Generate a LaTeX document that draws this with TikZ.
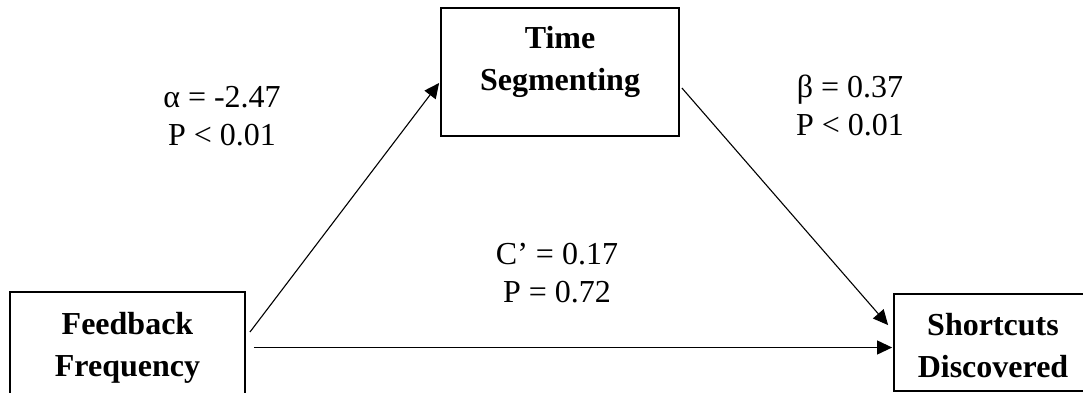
\documentclass[tikz,border=0pt]{standalone}
\usepackage{fontspec}
\setmainfont{Liberation Serif}
\usetikzlibrary{arrows.meta,calc}
\begin{document}
\begin{tikzpicture}[x=1pt,y=-1pt,
  boxnode/.style={draw=black,line width=1.8pt,inner sep=0pt,align=center,
    font=\fontsize{32}{42}\selectfont\bfseries},
  lbl/.style={inner sep=0pt,align=center,font=\fontsize{32}{38}\selectfont},
  conn/.style={line width=1.1pt,-{Triangle[length=15pt,width=14pt]}}]
\useasboundingbox (0,0) rectangle (1083,393);
\clip (0,0) rectangle (1083,393);
\node[boxnode,minimum width=235pt,minimum height=111pt] (fb) at (127.5,347.5)
  {\rule{0pt}{24pt}Feedback\\Frequency\rule[-8pt]{0pt}{8pt}};
\node[boxnode,minimum width=238pt,minimum height=128pt] (ts) at (560,72)
  {\rule{0pt}{24pt}Time\\Segmenting\rule[-28pt]{0pt}{28pt}};
\node[boxnode,minimum width=198pt,minimum height=97pt] (sd) at (993,342.5)
  {\rule{0pt}{35pt}Shortcuts\\Discovered\rule[-8pt]{0pt}{8pt}};
\node[lbl] (la) at (222,126.3)
  {\rule{0pt}{25pt}α = -2.47\\P < 0.01\rule[-25pt]{0pt}{25pt}};
\node[lbl] (lb) at (850,116.3)
  {\rule{0pt}{25pt}β = 0.37\\P < 0.01\rule[-25pt]{0pt}{25pt}};
\node[lbl] (lc) at (557,283.3)
  {\rule{0pt}{25pt}C’ = 0.17\\P = 0.72\rule[-25pt]{0pt}{25pt}};
\draw[conn] ([shift={(4,41)}]fb.north east) -- ([shift={(-1,11)}]ts.west);
\draw[conn] ([shift={(2,16)}]ts.east) -- ([shift={(-5,32)}]sd.north west);
\draw[conn] ([xshift=8pt]fb.east) -- ([xshift=-1pt]fb.east -| sd.west);
\end{tikzpicture}
\end{document}
